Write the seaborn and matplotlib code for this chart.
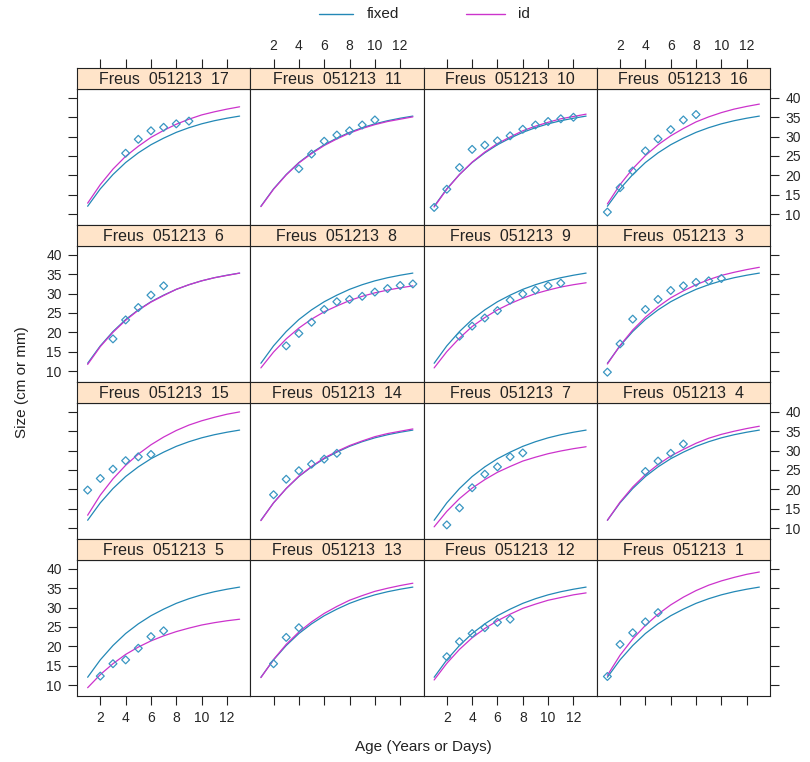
import matplotlib
matplotlib.use("Agg")
import matplotlib.pyplot as plt
from matplotlib.lines import Line2D
import pandas as pd
import seaborn as sns

# ---- data -------------------------------------------------------------
ages = list(range(1, 14))

# population-level (fixed effects) growth curve, same in every panel
fixed_curve = [12.0, 16.5, 20.2, 23.3, 25.8, 27.9, 29.6, 31.1, 32.3, 33.3, 34.1, 34.75, 35.3]

# individual-level (random effects) growth curves
id_curves = {
    "17": [12.8, 17.6, 21.6, 24.9, 27.5, 29.8, 31.6, 33.2, 34.5, 35.6, 36.4, 37.1, 37.7],
    "11": [11.9, 16.4, 20.1, 23.2, 25.6, 27.7, 29.4, 30.9, 32.1, 33.1, 33.9, 34.5, 35.1],
    "10": [11.8, 16.4, 20.2, 23.4, 26.0, 28.2, 29.9, 31.5, 32.7, 33.7, 34.6, 35.2, 35.8],
    "16": [12.6, 17.6, 21.7, 25.1, 27.9, 30.2, 32.1, 33.8, 35.1, 36.2, 37.1, 37.8, 38.4],
    "6":  [11.7, 16.3, 20.0, 23.1, 25.7, 27.8, 29.5, 31.1, 32.3, 33.3, 34.1, 34.7, 35.3],
    "8":  [10.8, 14.9, 18.3, 21.1, 23.4, 25.3, 26.8, 28.2, 29.3, 30.2, 30.9, 31.5, 32.0],
    "9":  [10.8, 15.0, 18.5, 21.5, 23.8, 25.8, 27.4, 28.8, 30.0, 30.9, 31.7, 32.3, 32.8],
    "3":  [11.8, 16.6, 20.6, 23.9, 26.6, 28.9, 30.7, 32.3, 33.6, 34.7, 35.5, 36.2, 36.8],
    "15": [13.3, 18.5, 22.7, 26.2, 29.1, 31.5, 33.5, 35.2, 36.6, 37.7, 38.6, 39.4, 40.0],
    "14": [11.9, 16.5, 20.2, 23.4, 25.9, 28.1, 29.8, 31.3, 32.5, 33.6, 34.4, 35.0, 35.6],
    "7":  [10.3, 14.3, 17.6, 20.3, 22.5, 24.4, 25.9, 27.3, 28.3, 29.2, 29.9, 30.5, 31.0],
    "4":  [12.0, 16.7, 20.6, 23.8, 26.4, 28.6, 30.3, 31.9, 33.2, 34.2, 35.0, 35.7, 36.3],
    "5":  [9.3, 12.7, 15.5, 17.9, 19.8, 21.4, 22.7, 23.8, 24.7, 25.5, 26.1, 26.6, 27.0],
    "13": [11.9, 16.6, 20.5, 23.7, 26.3, 28.5, 30.3, 31.9, 33.1, 34.2, 35.0, 35.7, 36.3],
    "12": [11.3, 15.6, 19.2, 22.2, 24.6, 26.6, 28.3, 29.8, 30.9, 31.9, 32.6, 33.3, 33.8],
    "1":  [12.5, 17.7, 21.9, 25.4, 28.3, 30.7, 32.7, 34.4, 35.8, 36.9, 37.8, 38.6, 39.2],
}

# observed ages and sizes
obs_ages = {
    "17": [4, 5, 6, 7, 8, 9],
    "11": [4, 5, 6, 7, 8, 9, 10],
    "10": [1, 2, 3, 4, 5, 6, 7, 8, 9, 10, 11, 12],
    "16": [1, 2, 3, 4, 5, 6, 7, 8],
    "6":  [3, 4, 5, 6, 7],
    "8":  [3, 4, 5, 6, 7, 8, 9, 10, 11, 12, 13],
    "9":  [3, 4, 5, 6, 7, 8, 9, 10, 11],
    "3":  [1, 2, 3, 4, 5, 6, 7, 8, 9, 10],
    "15": [1, 2, 3, 4, 5, 6],
    "14": [2, 3, 4, 5, 6, 7],
    "7":  [2, 3, 4, 5, 6, 7, 8],
    "4":  [4, 5, 6, 7],
    "5":  [2, 3, 4, 5, 6, 7],
    "13": [2, 3, 4],
    "12": [2, 3, 4, 5, 6, 7],
    "1":  [1, 2, 3, 4, 5],
}
obs_sizes = {
    "17": [25.7, 29.3, 31.5, 32.4, 33.3, 34.0],
    "11": [21.7, 25.5, 28.8, 30.4, 31.5, 33.0, 34.3],
    "10": [11.7, 16.4, 22.0, 26.7, 27.8, 28.9, 30.2, 31.9, 33.0, 33.9, 34.6, 35.0],
    "16": [10.5, 16.8, 21.1, 26.3, 29.4, 31.8, 34.3, 35.7],
    "6":  [18.3, 23.2, 26.4, 29.6, 32.0],
    "8":  [16.5, 19.7, 22.6, 25.9, 27.9, 28.5, 29.3, 30.4, 31.3, 32.1, 32.5],
    "9":  [19.0, 21.6, 23.7, 25.6, 28.3, 29.9, 30.9, 32.0, 32.7],
    "3":  [9.7, 17.0, 23.4, 25.9, 28.5, 30.8, 32.0, 32.9, 33.3, 33.9],
    "15": [19.8, 22.8, 25.2, 27.4, 28.4, 29.0],
    "14": [18.6, 22.6, 24.8, 26.5, 27.8, 29.3],
    "7":  [10.8, 15.2, 20.4, 23.9, 25.8, 28.4, 29.4],
    "4":  [24.6, 27.3, 29.3, 31.7],
    "5":  [12.3, 15.5, 16.5, 19.5, 22.5, 24.0],
    "13": [15.5, 22.3, 24.8],
    "12": [17.3, 21.2, 23.3, 24.8, 26.2, 27.0],
    "1":  [12.2, 20.5, 23.5, 26.3, 28.7],
}

# panel arrangement, top row first
panel_rows = [
    ["17", "11", "10", "16"],
    ["6", "8", "9", "3"],
    ["15", "14", "7", "4"],
    ["5", "13", "12", "1"],
]

x_ticks = [2, 4, 6, 8, 10, 12]
y_ticks = [10, 15, 20, 25, 30, 35, 40]
models = ["fixed", "id"]

# ---- long-form tables -------------------------------------------------
curve_rows = []
for fish, vals in id_curves.items():
    for a, f, i in zip(ages, fixed_curve, vals):
        curve_rows.append({"fish": fish, "age": a, "size": f, "model": "fixed"})
        curve_rows.append({"fish": fish, "age": a, "size": i, "model": "id"})
curves = pd.DataFrame(curve_rows)

obs_rows = []
for fish in obs_ages:
    for a, s in zip(obs_ages[fish], obs_sizes[fish]):
        obs_rows.append({"fish": fish, "age": a, "size": s})
obs = pd.DataFrame(obs_rows)

# ---- styling -----------------------------------------------------------
sns.set_theme(style="white")
plt.rcParams["font.family"] = ["Liberation Sans", "DejaVu Sans"]

FIXED_COL = "#2388b6"
ID_COL = "#cc33cc"
POINT_COL = "#3a96c2"
STRIP_COL = "#ffe4c9"
EDGE_COL = "#222222"
palette = {"fixed": FIXED_COL, "id": ID_COL}

W, H = 810, 762
fig = plt.figure(figsize=(W / 100, H / 100), dpi=100)

left0, top0 = 77, 68
col_w = 173.25
strip_h, plot_h = 21, 136
row_h = strip_h + plot_h
XLIM = (0.16, 13.84)
YLIM = (7.16, 42.3)
TICK_LEN = 6.5
TICK_PAD = 4.5


def fx(px):
    return px / W


def fy(py):
    return 1 - py / H


for r, row in enumerate(panel_rows):
    for c, fish in enumerate(row):
        x0 = left0 + c * col_w
        y_strip = top0 + r * row_h
        y_plot = y_strip + strip_h
        ax = fig.add_axes([fx(x0), fy(y_plot + plot_h), col_w / W, plot_h / H])
        sax = fig.add_axes([fx(x0), fy(y_plot), col_w / W, strip_h / H])

        sub_c = curves[curves["fish"] == fish]
        sub_o = obs[obs["fish"] == fish]

        sns.scatterplot(data=sub_o, x="age", y="size", ax=ax, marker="D", s=16,
                        color=POINT_COL, linewidth=0.9, legend=False, zorder=3)
        coll = ax.collections[-1]
        coll.set_facecolor("none")
        coll.set_edgecolor(POINT_COL)

        sns.lineplot(data=sub_c, x="age", y="size", hue="model", hue_order=models,
                     palette=palette, ax=ax, legend=False, linewidth=0.9,
                     estimator=None, sort=True)

        ax.set_xlim(*XLIM)
        ax.set_ylim(*YLIM)
        ax.set_xticks(x_ticks)
        ax.set_yticks(y_ticks)
        ax.set_xlabel("")
        ax.set_ylabel("")
        ax.set_facecolor("white")
        for sp in ax.spines.values():
            sp.set_visible(True)
            sp.set_color(EDGE_COL)
            sp.set_linewidth(0.8)

        ax.tick_params(axis="x", which="both", direction="out", length=TICK_LEN,
                       width=0.8, color=EDGE_COL, labelsize=10, pad=TICK_PAD,
                       bottom=(r == 3), top=False,
                       labelbottom=(r == 3 and c in (0, 2)), labeltop=False)
        ax.tick_params(axis="y", which="both", direction="out", length=TICK_LEN,
                       width=0.8, color=EDGE_COL, labelsize=10, pad=TICK_PAD,
                       left=(c == 0), right=(c == 3),
                       labelleft=(c == 0 and r in (1, 3)),
                       labelright=(c == 3 and r in (0, 2)))

        # strip with the fish id
        sax.set_facecolor(STRIP_COL)
        sax.set_xlim(*XLIM)
        sax.set_ylim(0, 1)
        sax.set_yticks([])
        sax.set_xticks(x_ticks)
        for sp in sax.spines.values():
            sp.set_visible(True)
            sp.set_color(EDGE_COL)
            sp.set_linewidth(0.8)
        sax.tick_params(axis="x", which="both", direction="out", length=TICK_LEN,
                        width=0.8, color=EDGE_COL, labelsize=10, pad=TICK_PAD,
                        bottom=False, labelbottom=False,
                        top=(r == 0), labeltop=(r == 0 and c in (1, 3)))
        sax.text(0.5, 0.47, f"Freus  051213  {fish}", ha="center", va="center",
                 fontsize=11.5, color="#222222", transform=sax.transAxes)

# axis titles
fig.text(fx(22), fy(382), "Size (cm or mm)", rotation=90, ha="center", va="center",
         fontsize=11, color="#222222")
fig.text(fx(423), fy(747), "Age (Years or Days)", ha="center", va="center",
         fontsize=11, color="#222222")

# key at the top
fig.add_artist(Line2D([fx(319), fx(353)], [fy(14), fy(14)], color=FIXED_COL, lw=1.0))
fig.text(fx(367), fy(14), "fixed", ha="left", va="center", fontsize=11, color="#222222")
fig.add_artist(Line2D([fx(466), fx(505)], [fy(14), fy(14)], color=ID_COL, lw=1.0))
fig.text(fx(518), fy(14), "id", ha="left", va="center", fontsize=11, color="#222222")

fig.savefig("out.png", dpi=100, facecolor="white")
